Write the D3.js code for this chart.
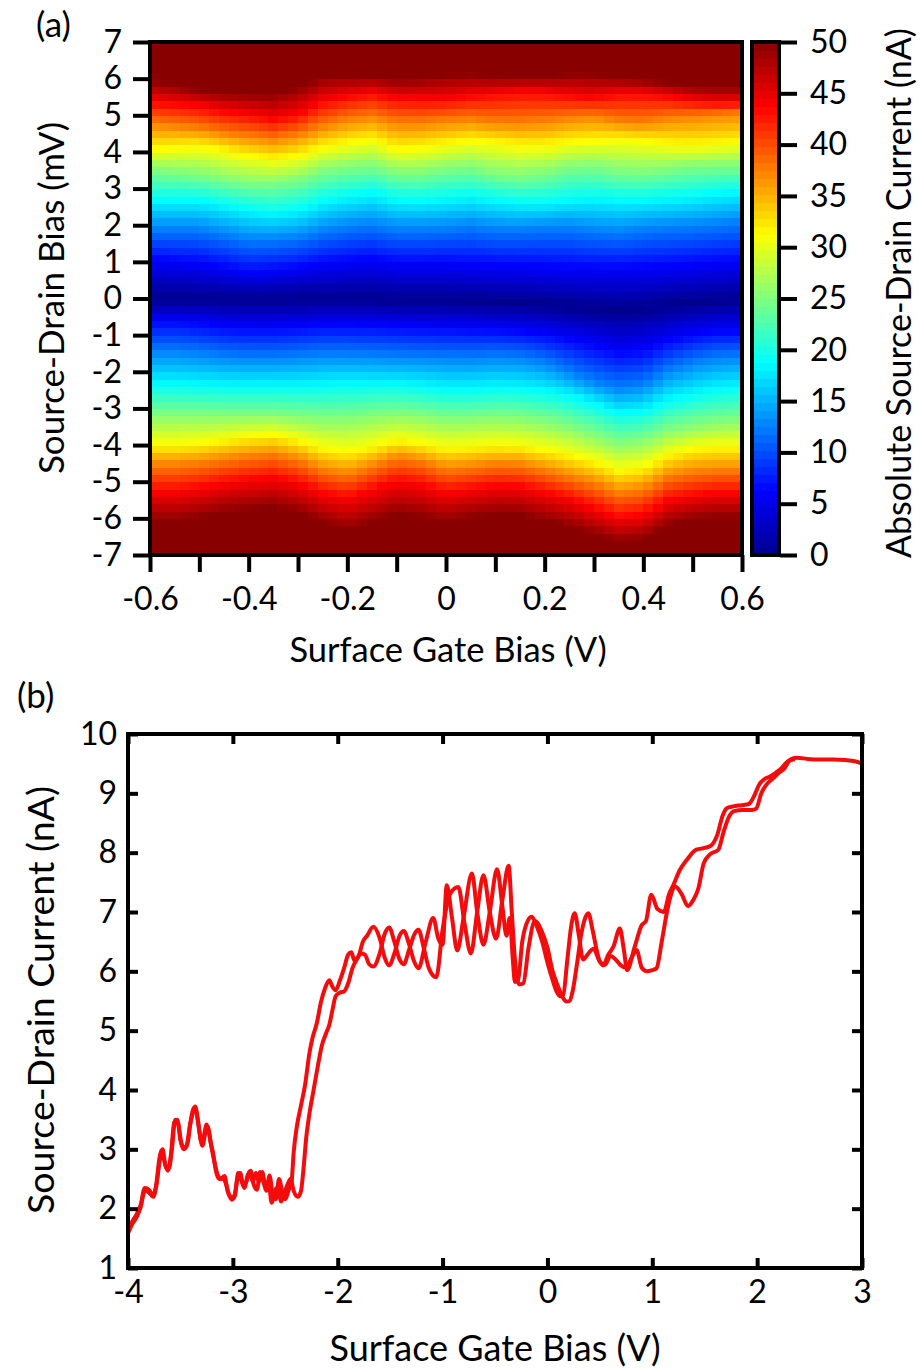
<!DOCTYPE html>
<html>
<head>
<meta charset="utf-8">
<title>Source-drain current vs gate and bias</title>
<script src="https://cdn.jsdelivr.net/npm/d3@7"></script>
<style>
  body { margin: 0; background: #fff; }
  svg { display: block; }
  text { font-family: Lato, 'Open Sans', sans-serif; fill: #000; }
</style>
</head>
<body>
<svg id="chart" width="920" height="1372"></svg>
<script>
// ---- panel (a): current map ----
// gate columns (V)
const gateV = [-0.6, -0.55, -0.5, -0.45, -0.4, -0.35, -0.3, -0.25, -0.2, -0.15, -0.1, -0.05, 0,
  0.05, 0.1, 0.15, 0.2, 0.25, 0.3, 0.35, 0.4, 0.45, 0.5, 0.55, 0.6];
// current levels (nA) whose bias position is listed per column
const levels = [6.25, 12.5, 18.75, 25, 31.25, 37.5, 43.75, 50];
// bias (mV) where the current vanishes
const zeroBias = [0, 0, 0, 0, 0, 0, 0, 0, 0, 0, -0.05, -0.05, -0.05,
  -0.05, -0.1, -0.1, -0.15, -0.2, -0.25, -0.3, -0.25, -0.15, -0.1, -0.05, 0];
// positive bias (mV) reaching each level, one row per level
const posBias = [
  [1.08, 1.03, 0.98, 0.85, 0.71, 0.78, 0.85, 0.97, 1.03, 1.08, 0.98, 0.98, 0.98, 0.95, 0.92, 0.90, 0.88, 0.86, 0.84, 0.84, 0.86, 0.90, 0.95, 1.00, 1.02],
  [1.90, 1.90, 1.90, 1.76, 1.62, 1.62, 1.67, 1.85, 1.97, 2.03, 1.90, 1.90, 1.93, 1.99, 1.90, 1.90, 1.95, 1.95, 1.86, 1.81, 1.90, 1.95, 1.99, 2.04, 2.09],
  [2.71, 2.71, 2.71, 2.58, 2.44, 2.35, 2.44, 2.67, 2.81, 2.90, 2.71, 2.70, 2.75, 2.81, 2.72, 2.63, 2.63, 2.72, 2.77, 2.72, 2.72, 2.77, 2.81, 2.91, 2.95],
  [3.53, 3.46, 3.40, 3.26, 3.17, 3.17, 3.26, 3.49, 3.58, 3.63, 3.44, 3.44, 3.55, 3.59, 3.41, 3.36, 3.45, 3.59, 3.63, 3.50, 3.45, 3.54, 3.63, 3.63, 3.63],
  [4.08, 4.13, 4.17, 4.04, 3.90, 3.81, 3.90, 4.13, 4.26, 4.35, 4.08, 4.13, 4.22, 4.32, 4.27, 4.18, 4.18, 4.27, 4.32, 4.36, 4.32, 4.23, 4.18, 4.23, 4.27],
  [4.81, 4.74, 4.67, 4.54, 4.45, 4.37, 4.49, 4.72, 4.90, 4.99, 4.81, 4.81, 4.88, 4.91, 4.82, 4.82, 4.86, 4.95, 5.00, 4.86, 4.82, 4.95, 5.00, 5.05, 5.09],
  [5.40, 5.34, 5.27, 5.13, 5.04, 4.92, 5.04, 5.40, 5.54, 5.63, 5.49, 5.47, 5.46, 5.55, 5.62, 5.68, 5.66, 5.56, 5.50, 5.62, 5.62, 5.53, 5.41, 5.36, 5.36],
  [5.99, 5.86, 5.72, 5.67, 5.63, 5.63, 5.81, 6.08, 6.08, 6.08, 5.99, 6.04, 6.12, 6.14, 6.07, 6.05, 6.07, 6.14, 6.14, 6.05, 5.98, 5.91, 5.82, 5.80, 5.80],
];
// negative bias (mV) reaching each level
const negBias = [
  [-0.60, -0.60, -0.65, -0.74, -0.78, -0.78, -0.74, -0.69, -0.69, -0.71, -0.74, -0.76, -0.78, -0.80, -0.82, -0.87, -0.95, -1.08, -1.25, -1.43, -1.38, -1.12, -0.95, -0.87, -0.87],
  [-1.42, -1.42, -1.47, -1.56, -1.60, -1.60, -1.56, -1.51, -1.51, -1.53, -1.56, -1.58, -1.60, -1.60, -1.57, -1.60, -1.73, -1.99, -2.25, -2.42, -2.34, -1.95, -1.73, -1.60, -1.56],
  [-2.33, -2.33, -2.35, -2.38, -2.38, -2.38, -2.38, -2.35, -2.33, -2.33, -2.33, -2.38, -2.46, -2.47, -2.42, -2.44, -2.51, -2.64, -2.85, -3.11, -3.07, -2.77, -2.60, -2.47, -2.42],
  [-3.15, -3.15, -3.15, -3.15, -3.15, -3.15, -3.20, -3.24, -3.24, -3.15, -3.11, -3.15, -3.26, -3.24, -3.20, -3.22, -3.33, -3.46, -3.68, -3.89, -3.81, -3.55, -3.42, -3.33, -3.29],
  [-3.97, -3.97, -3.93, -3.83, -3.74, -3.70, -3.83, -4.06, -4.15, -4.02, -3.83, -3.93, -4.06, -4.02, -3.98, -4.00, -4.11, -4.24, -4.41, -4.67, -4.58, -4.24, -4.07, -4.02, -4.02],
  [-4.52, -4.52, -4.47, -4.38, -4.29, -4.24, -4.38, -4.65, -4.79, -4.56, -4.33, -4.43, -4.64, -4.58, -4.50, -4.52, -4.67, -4.84, -5.02, -5.28, -5.19, -4.84, -4.71, -4.67, -4.67],
  [-5.25, -5.25, -5.16, -5.02, -4.93, -4.88, -5.02, -5.29, -5.43, -5.20, -4.97, -5.06, -5.28, -5.19, -5.10, -5.12, -5.28, -5.45, -5.71, -5.97, -5.88, -5.49, -5.36, -5.28, -5.28],
  [-6.07, -6.07, -5.97, -5.84, -5.75, -5.70, -5.84, -6.11, -6.34, -6.11, -5.88, -5.97, -6.11, -5.97, -5.88, -5.90, -6.06, -6.23, -6.44, -6.62, -6.57, -6.19, -6.01, -5.97, -5.97],
];
const gateTicks = [-0.6, -0.5, -0.4, -0.3, -0.2, -0.1, 0, 0.1, 0.2, 0.3, 0.4, 0.5, 0.6];
const biasTicks = [-7, -6, -5, -4, -3, -2, -1, 0, 1, 2, 3, 4, 5, 6, 7];
const currentTicks = [0, 5, 10, 15, 20, 25, 30, 35, 40, 45, 50];

// ---- panel (b): two gate sweeps, [gate V, current nA] ----
const sweepA = [
  [-4.00, 1.58], [-3.96, 1.74], [-3.92, 1.85], [-3.88, 2.02], [-3.84, 2.30], [-3.80, 2.27], [-3.76, 2.20], [-3.73, 2.38],
  [-3.70, 2.78], [-3.68, 2.98], [-3.65, 2.78], [-3.62, 2.64], [-3.59, 2.92], [-3.56, 3.45], [-3.53, 3.50], [-3.50, 3.15],
  [-3.47, 3.00], [-3.44, 3.06], [-3.41, 3.40], [-3.38, 3.62], [-3.36, 3.72], [-3.33, 3.46], [-3.31, 3.20], [-3.29, 3.06],
  [-3.26, 3.30], [-3.24, 3.38], [-3.21, 3.10], [-3.19, 2.95], [-3.16, 2.62], [-3.13, 2.50], [-3.10, 2.52], [-3.07, 2.44],
  [-3.04, 2.25], [-3.01, 2.15], [-2.98, 2.22], [-2.95, 2.60], [-2.92, 2.48], [-2.89, 2.35], [-2.86, 2.56], [-2.83, 2.64],
  [-2.80, 2.40], [-2.77, 2.32], [-2.74, 2.62], [-2.71, 2.46], [-2.68, 2.30], [-2.65, 2.56], [-2.62, 2.24], [-2.59, 2.16],
  [-2.56, 2.50], [-2.53, 2.30], [-2.50, 2.16], [-2.47, 2.30], [-2.44, 2.45], [-2.42, 2.95], [-2.39, 3.38], [-2.35, 3.74],
  [-2.31, 4.10], [-2.27, 4.62], [-2.24, 4.88], [-2.20, 5.12], [-2.16, 5.48], [-2.12, 5.72], [-2.08, 5.85], [-2.05, 5.74],
  [-2.02, 5.68], [-1.98, 5.84], [-1.94, 6.05], [-1.90, 6.28], [-1.87, 6.32], [-1.84, 6.18], [-1.80, 6.26], [-1.76, 6.50],
  [-1.72, 6.60], [-1.66, 6.75], [-1.60, 6.56], [-1.55, 6.22], [-1.51, 6.10], [-1.46, 6.30], [-1.41, 6.60], [-1.37, 6.68],
  [-1.32, 6.46], [-1.27, 6.16], [-1.23, 6.05], [-1.16, 6.50], [-1.09, 6.90], [-1.04, 6.55], [-1.00, 6.45], [-0.96, 7.45],
  [-0.91, 6.90], [-0.86, 6.35], [-0.80, 6.90], [-0.72, 7.65], [-0.67, 7.00], [-0.61, 6.45], [-0.55, 7.00], [-0.48, 7.72],
  [-0.43, 7.10], [-0.39, 6.60], [-0.36, 6.90], [-0.33, 6.20], [-0.31, 5.82], [-0.28, 5.85], [-0.24, 6.50], [-0.20, 6.80],
  [-0.15, 6.92], [-0.10, 6.75], [-0.05, 6.50], [0.00, 6.15], [0.05, 5.85], [0.09, 5.65], [0.12, 5.58], [0.15, 5.60],
  [0.19, 6.20], [0.23, 6.80], [0.26, 6.98], [0.30, 6.60], [0.34, 6.20], [0.39, 6.30], [0.44, 6.38], [0.49, 6.20],
  [0.53, 6.10], [0.58, 6.28], [0.63, 6.42], [0.69, 6.72], [0.73, 6.35], [0.76, 6.02], [0.83, 6.40], [0.90, 6.78],
  [0.94, 6.85], [0.99, 7.29], [1.05, 7.05], [1.11, 7.00], [1.16, 7.30], [1.20, 7.45], [1.26, 7.70], [1.33, 7.88],
  [1.42, 8.05], [1.50, 8.08], [1.56, 8.12], [1.62, 8.30], [1.67, 8.62], [1.71, 8.75], [1.77, 8.78], [1.85, 8.80],
  [1.92, 8.82], [1.97, 8.95], [2.02, 9.15], [2.07, 9.24], [2.12, 9.28], [2.18, 9.35], [2.23, 9.42], [2.28, 9.52],
  [2.33, 9.58], [2.38, 9.60], [2.48, 9.58], [2.60, 9.57], [2.72, 9.57], [2.84, 9.56], [2.93, 9.54], [3.00, 9.50],
];
const sweepB = [
  [-4.00, 1.62], [-3.96, 1.78], [-3.92, 1.90], [-3.88, 2.06], [-3.84, 2.35], [-3.80, 2.32], [-3.76, 2.22], [-3.73, 2.42],
  [-3.70, 2.85], [-3.67, 3.00], [-3.64, 2.70], [-3.61, 2.68], [-3.58, 3.02], [-3.55, 3.50], [-3.52, 3.42], [-3.49, 3.10],
  [-3.46, 3.02], [-3.43, 3.12], [-3.40, 3.50], [-3.37, 3.70], [-3.35, 3.64], [-3.32, 3.30], [-3.30, 3.12], [-3.28, 3.20],
  [-3.25, 3.42], [-3.23, 3.30], [-3.20, 3.00], [-3.17, 2.74], [-3.14, 2.55], [-3.11, 2.50], [-3.08, 2.55], [-3.05, 2.30],
  [-3.02, 2.20], [-2.99, 2.20], [-2.96, 2.46], [-2.93, 2.60], [-2.90, 2.40], [-2.87, 2.46], [-2.84, 2.62], [-2.81, 2.45],
  [-2.78, 2.60], [-2.75, 2.45], [-2.72, 2.62], [-2.69, 2.40], [-2.66, 2.46], [-2.63, 2.10], [-2.60, 2.30], [-2.57, 2.36],
  [-2.54, 2.12], [-2.51, 2.26], [-2.48, 2.40], [-2.45, 2.50], [-2.42, 2.30], [-2.38, 2.20], [-2.35, 2.30], [-2.33, 2.60],
  [-2.30, 3.20], [-2.27, 3.60], [-2.23, 4.00], [-2.19, 4.40], [-2.15, 4.76], [-2.11, 4.96], [-2.08, 5.10], [-2.05, 5.35],
  [-2.02, 5.58], [-1.98, 5.64], [-1.94, 5.66], [-1.90, 5.80], [-1.86, 6.05], [-1.82, 6.20], [-1.78, 6.30], [-1.74, 6.28],
  [-1.70, 6.12], [-1.66, 6.08], [-1.60, 6.30], [-1.55, 6.64], [-1.51, 6.74], [-1.46, 6.50], [-1.41, 6.20], [-1.37, 6.12],
  [-1.32, 6.36], [-1.27, 6.62], [-1.23, 6.70], [-1.18, 6.40], [-1.13, 6.05], [-1.06, 5.90], [-1.00, 6.70], [-0.93, 7.30],
  [-0.85, 7.42], [-0.79, 6.80], [-0.73, 6.30], [-0.67, 7.00], [-0.61, 7.62], [-0.55, 7.00], [-0.49, 6.55], [-0.43, 7.20],
  [-0.37, 7.78], [-0.34, 7.00], [-0.31, 6.20], [-0.27, 5.78], [-0.23, 5.80], [-0.18, 6.40], [-0.12, 6.85], [-0.06, 6.70],
  [0.00, 6.40], [0.05, 6.00], [0.10, 5.75], [0.15, 5.55], [0.18, 5.49], [0.21, 5.50], [0.24, 5.66], [0.28, 6.10],
  [0.32, 6.60], [0.36, 6.90], [0.39, 6.98], [0.43, 6.70], [0.47, 6.36], [0.50, 6.16], [0.55, 6.11], [0.60, 6.26],
  [0.65, 6.20], [0.70, 6.10], [0.75, 6.06], [0.80, 6.22], [0.85, 6.36], [0.90, 6.06], [0.95, 6.00], [1.00, 6.02],
  [1.04, 6.05], [1.09, 6.50], [1.14, 7.00], [1.18, 7.30], [1.22, 7.43], [1.28, 7.30], [1.34, 7.10], [1.39, 7.20],
  [1.44, 7.40], [1.49, 7.82], [1.55, 7.97], [1.63, 8.05], [1.68, 8.35], [1.73, 8.60], [1.78, 8.70], [1.86, 8.72],
  [1.95, 8.72], [1.99, 8.74], [2.04, 9.00], [2.09, 9.15], [2.15, 9.25], [2.21, 9.35], [2.26, 9.42], [2.31, 9.55], [2.36, 9.58],
];
const sweepGateTicks = [-4, -3, -2, -1, 0, 1, 2, 3];
const sweepCurrentTicks = [1, 2, 3, 4, 5, 6, 7, 8, 9, 10];

const svg = d3.select('#chart');
const FONT = 32;

// jet colour map over 0..50 nA
const jet = d3.scaleLinear()
  .domain([0, 6.25, 18.75, 31.25, 43.75, 50])
  .range(['#00008c', '#0000ff', '#00ffff', '#ffff00', '#ff0000', '#880000'])
  .clamp(true);

/** Thick black ticks and big labels on a d3 axis group. */
function styleAxis(g, width) {
  g.attr('font-family', null).attr('font-size', null);
  g.select('.domain').remove();
  g.selectAll('.tick line').attr('stroke', '#000').attr('stroke-width', width);
  g.selectAll('.tick text').attr('fill', '#000').style('font-size', FONT + 'px');
}

const fmt = (v) => String(+v.toFixed(1));

// ================= panel (a) =================
const xA = d3.scaleLinear().domain([-0.6, 0.6]).range([150, 742]);
const yA = d3.scaleLinear().domain([-7, 7]).range([555, 42]);

// contour position at any gate, per level, through linear scales
const negScales = negBias.slice().reverse().map((row) => d3.scaleLinear().domain(gateV).range(row));
const zeroScale = d3.scaleLinear().domain(gateV).range(zeroBias);
const posScales = posBias.map((row) => d3.scaleLinear().domain(gateV).range(row));
const knotCurrents = [...levels.slice().reverse(), 0, ...levels];

function currentAt(g, b) {
  const knots = [...negScales.map((s) => s(g)), zeroScale(g), ...posScales.map((s) => s(g))];
  return d3.scaleLinear().domain(knots).range(knotCurrents).clamp(true)(b);
}

// raster cells, 0.02 V x 0.2 mV like the instrument grid
const gStep = 0.02;
const bStep = 0.2;
const cells = [];
d3.range(60).forEach((i) => {
  const g = -0.6 + gStep * (i + 0.5);
  d3.range(70).forEach((j) => {
    const b = -7 + bStep * (j + 0.5);
    cells.push({ g, b, v: currentAt(g, b) });
  });
});

const cellW = xA(gStep) - xA(0);
const cellH = yA(0) - yA(bStep);
svg.append('g')
  .attr('shape-rendering', 'crispEdges')
  .selectAll('rect')
  .data(cells)
  .join('rect')
  .attr('x', (d) => xA(d.g - gStep / 2))
  .attr('y', (d) => yA(d.b + bStep / 2))
  .attr('width', cellW + 0.6)
  .attr('height', cellH + 0.6)
  .attr('fill', (d) => jet(d.v));

svg.append('rect')
  .attr('x', 150).attr('y', 42).attr('width', 592).attr('height', 513)
  .attr('fill', 'none').attr('stroke', '#000').attr('stroke-width', 4);

svg.append('g')
  .attr('transform', 'translate(0,555)')
  .call(d3.axisBottom(xA).tickValues(gateTicks).tickSize(17).tickPadding(15)
    .tickFormat((v) => (Math.round(v * 10) % 2 === 0 ? fmt(v) : '')))
  .call(styleAxis, 4);

svg.append('g')
  .attr('transform', 'translate(150,0)')
  .call(d3.axisLeft(yA).tickValues(biasTicks).tickSize(17).tickPadding(11).tickFormat(fmt))
  .call(styleAxis, 4);

// colour bar
const cbScale = d3.scaleLinear().domain([0, 50]).range([555, 42]);
const cbSteps = d3.range(64).map((k) => (k * 50) / 64);
svg.append('g')
  .attr('shape-rendering', 'crispEdges')
  .selectAll('rect')
  .data(cbSteps)
  .join('rect')
  .attr('x', 752)
  .attr('y', (d) => cbScale(d + 50 / 64))
  .attr('width', 27)
  .attr('height', (d) => cbScale(d) - cbScale(d + 50 / 64) + 0.6)
  .attr('fill', (d) => jet(d + 25 / 64));

svg.append('rect')
  .attr('x', 752).attr('y', 42).attr('width', 27).attr('height', 513)
  .attr('fill', 'none').attr('stroke', '#000').attr('stroke-width', 4);

svg.append('g')
  .attr('transform', 'translate(780,0)')
  .call(d3.axisRight(cbScale).tickValues(currentTicks).tickSize(17).tickPadding(13))
  .call(styleAxis, 4);

svg.append('text').attr('x', 36).attr('y', 37).style('font-size', '35px').text('(a)');
svg.append('text').attr('x', 448).attr('y', 662).attr('text-anchor', 'middle')
  .style('font-size', '34.5px').text('Surface Gate Bias (V)');
svg.append('text').attr('transform', 'translate(64,298) rotate(-90)').attr('text-anchor', 'middle')
  .style('font-size', '35px').text('Source-Drain Bias (mV)');
svg.append('text').attr('transform', 'translate(911,293) rotate(-90)').attr('text-anchor', 'middle')
  .style('font-size', '34px').text('Absolute Source-Drain Current (nA)');

// ================= panel (b) =================
const xB = d3.scaleLinear().domain([-4, 3]).range([128, 862]);
const yB = d3.scaleLinear().domain([1, 10]).range([1268, 734]);

svg.append('clipPath').attr('id', 'clipB')
  .append('rect').attr('x', 128).attr('y', 734).attr('width', 734).attr('height', 534);

const line = d3.line()
  .x((d) => xB(d[0]))
  .y((d) => yB(d[1]))
  .curve(d3.curveMonotoneX);

svg.append('g')
  .attr('clip-path', 'url(#clipB)')
  .selectAll('path')
  .data([sweepA, sweepB])
  .join('path')
  .attr('d', line)
  .attr('fill', 'none')
  .attr('stroke', '#f20c0c')
  .attr('stroke-width', 4)
  .attr('stroke-linejoin', 'round');

svg.append('g').attr('transform', 'translate(0,1268)')
  .call(d3.axisBottom(xB).tickValues(sweepGateTicks).tickSize(-10).tickPadding(12).tickFormat(fmt))
  .call(styleAxis, 4);
svg.append('g').attr('transform', 'translate(0,734)')
  .call(d3.axisTop(xB).tickValues(sweepGateTicks).tickSize(-10).tickFormat(''))
  .call(styleAxis, 4);
svg.append('g').attr('transform', 'translate(128,0)')
  .call(d3.axisLeft(yB).tickValues(sweepCurrentTicks).tickSize(-10).tickPadding(11).tickFormat(fmt))
  .call(styleAxis, 4);
svg.append('g').attr('transform', 'translate(862,0)')
  .call(d3.axisRight(yB).tickValues(sweepCurrentTicks).tickSize(-10).tickFormat(''))
  .call(styleAxis, 4);

svg.append('rect')
  .attr('x', 128).attr('y', 734).attr('width', 734).attr('height', 534)
  .attr('fill', 'none').attr('stroke', '#000').attr('stroke-width', 4);

svg.append('text').attr('x', 17).attr('y', 708).style('font-size', '35px').text('(b)');
svg.append('text').attr('x', 495).attr('y', 1361).attr('text-anchor', 'middle')
  .style('font-size', '36px').text('Surface Gate Bias (V)');
svg.append('text').attr('transform', 'translate(54,1000) rotate(-90)').attr('text-anchor', 'middle')
  .style('font-size', '37.5px').text('Source-Drain Current (nA)');
</script>
</body>
</html>
